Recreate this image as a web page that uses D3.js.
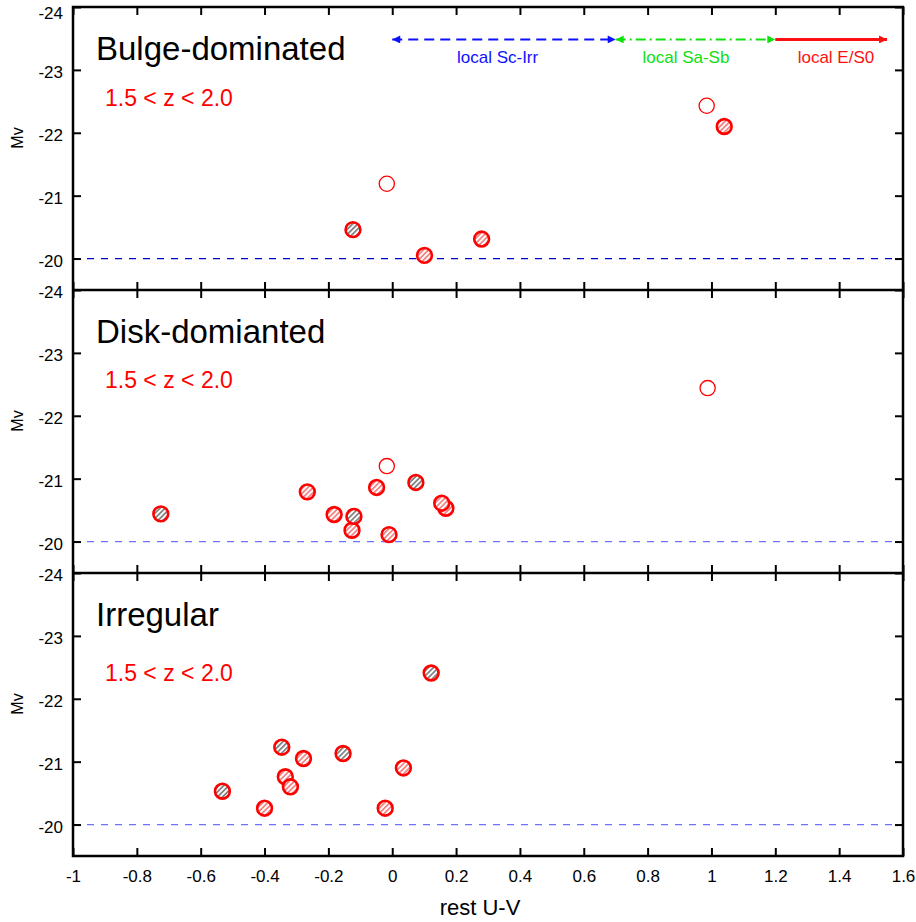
<!DOCTYPE html>
<html>
<head>
<meta charset="utf-8">
<script src="https://cdn.jsdelivr.net/npm/d3@7"></script>
<style>
  body { margin: 0; background: #fff; }
  text { font-family: "Liberation Sans", Arial, sans-serif; }
</style>
</head>
<body>
<div id="chart"></div>
<script>
// panels
const panelNames = ['Bulge-dominated', 'Disk-domianted', 'Irregular']
const zLabel = '1.5 < z < 2.0'

// kind: o = open, d = dark hatch, l = light hatch
const bulgeUV = [-0.017, 0.985, -0.123, 0.101, 0.28, 1.04]
const bulgeMv = [-21.19, -22.43, -20.46, -20.05, -20.31, -22.1]
const bulgeKind = ['o', 'o', 'd', 'l', 'l', 'l']

const diskUV = [-0.725, -0.266, -0.182, -0.126, -0.12, -0.049, -0.017, -0.01, 0.074, 0.168, 0.155, 0.988]
const diskMv = [-20.44, -20.79, -20.43, -20.18, -20.40, -20.86, -21.20, -20.11, -20.94, -20.53, -20.61, -22.44]
const diskKind = ['d', 'l', 'l', 'l', 'd', 'l', 'o', 'l', 'd', 'l', 'l', 'o']

const irrUV = [-0.532, -0.40, -0.346, -0.278, -0.335, -0.319, -0.154, -0.022, 0.035, 0.122]
const irrMv = [-20.53, -20.26, -21.23, -21.05, -20.76, -20.60, -21.13, -20.26, -20.90, -22.41]
const irrKind = ['d', 'l', 'd', 'l', 'l', 'l', 'd', 'l', 'l', 'd']

// local galaxy colour ranges (top panel)
const rangeNames = ['local Sc-Irr', 'local Sa-Sb', 'local E/S0']
const rangeStart = [0, 0.7, 1.2]
const rangeEnd = [0.7, 1.2, 1.55]
const rangeLabelUV = [0.33, 0.92, 1.39]
const rangeMv = -23.5

const xTicks = [-1, -0.8, -0.6, -0.4, -0.2, 0, 0.2, 0.4, 0.6, 0.8, 1, 1.2, 1.4, 1.6]
const yTicks = [-24, -23, -22, -21, -20]
const limitMv = -20

const panels = [
  { uv: bulgeUV, mv: bulgeMv, kind: bulgeKind },
  { uv: diskUV, mv: diskMv, kind: diskKind },
  { uv: irrUV, mv: irrMv, kind: irrKind }
]

const width = 916
const height = 922
const left = 73
const right = 903
const top0 = 7
const panelH = 283

const svg = d3.select('#chart').append('svg')
  .attr('width', width)
  .attr('height', height)

const defs = svg.append('defs')
const hatch = (id, color, w) => {
  const p = defs.append('pattern')
    .attr('id', id)
    .attr('patternUnits', 'userSpaceOnUse')
    .attr('width', 3.6)
    .attr('height', 3.6)
    .attr('patternTransform', 'rotate(45)')
  p.append('rect').attr('width', 3.6).attr('height', 3.6).attr('fill', '#fff')
  p.append('line')
    .attr('x1', 0.9).attr('y1', 0).attr('x2', 0.9).attr('y2', 3.6)
    .attr('stroke', color).attr('stroke-width', w)
}
hatch('hatchDark', '#222', 1.0)
hatch('hatchLight', '#f07878', 1.6)

const arrow = (id, color) => {
  defs.append('marker')
    .attr('id', id)
    .attr('viewBox', '0 0 10 10')
    .attr('refX', 10).attr('refY', 5)
    .attr('markerWidth', 12).attr('markerHeight', 8)
    .attr('markerUnits', 'userSpaceOnUse')
    .attr('orient', 'auto-start-reverse')
    .append('path')
    .attr('d', 'M0,0L10,5L0,10Z')
    .attr('fill', color)
}
const rangeColors = ['#1010ff', '#10e010', '#ff1010']
rangeColors.forEach((c, i) => arrow('arr' + i, c))

const x = d3.scaleLinear().domain([-1, 1.6]).range([left, right])
const fmt = d => String(Math.round(d * 10) / 10)

panels.forEach((p, i) => {
  const top = top0 + i * panelH
  const y = d3.scaleLinear().domain([-24, -19.5]).range([top, top + panelH])
  const g = svg.append('g')

  // limit line
  g.append('line')
    .attr('x1', left).attr('x2', right)
    .attr('y1', y(limitMv)).attr('y2', y(limitMv))
    .attr('stroke', i === 0 ? '#0000c8' : '#7070ff')
    .attr('stroke-width', 1.3)
    .attr('stroke-dasharray', '7,7')

  // axes with inward ticks
  const yl = g.append('g').attr('transform', `translate(${left},0)`)
    .call(d3.axisLeft(y).tickValues(yTicks).tickFormat(fmt).tickSizeInner(-8).tickSizeOuter(0).tickPadding(10))
  yl.selectAll('.tick text')
    .attr('dy', d => d === -24 ? (i === 0 ? '0.65em' : '0.45em') : '0.45em')
  const yr = g.append('g').attr('transform', `translate(${right},0)`)
    .call(d3.axisRight(y).tickValues(yTicks).tickFormat('').tickSizeInner(-8).tickSizeOuter(0))
  const xt = g.append('g').attr('transform', `translate(0,${top})`)
    .call(d3.axisTop(x).tickValues(xTicks).tickFormat('').tickSizeInner(-8).tickSizeOuter(0))
  const xb = g.append('g').attr('transform', `translate(0,${top + panelH})`)
    .call(d3.axisBottom(x).tickValues(xTicks).tickFormat(i === 2 ? fmt : '').tickSizeInner(-8).tickSizeOuter(0).tickPadding(14))
  ;[yl, yr, xt, xb].forEach(a => {
    a.select('.domain').remove()
    a.selectAll('.tick line').attr('stroke', '#000').attr('stroke-width', 2)
    a.selectAll('text').attr('font-size', 17).attr('fill', '#000')
      .attr('font-family', '"Liberation Sans", Arial, sans-serif')
  })

  // axis name
  g.append('text')
    .attr('transform', `translate(23,${top + 131}) rotate(-90)`)
    .attr('text-anchor', 'middle')
    .attr('font-size', 16)
    .text('Mv')

  // panel title and redshift
  g.append('text')
    .attr('x', 96).attr('y', top + 53)
    .attr('font-size', 33)
    .text(panelNames[i])
  g.append('text')
    .attr('x', 105).attr('y', top + [99, 98, 108][i])
    .attr('font-size', 23)
    .attr('fill', '#ff0000')
    .text(zLabel)

  // points
  const pts = p.uv.map((u, k) => ({ u, m: p.mv[k], kind: p.kind[k] }))
  g.append('g').selectAll('circle')
    .data(pts)
    .join('circle')
    .attr('cx', d => x(d.u))
    .attr('cy', d => y(d.m))
    .attr('r', d => d.kind === 'o' ? 7.6 : 7.4)
    .attr('fill', d => d.kind === 'o' ? '#fff' : d.kind === 'd' ? 'url(#hatchDark)' : 'url(#hatchLight)')
    .attr('stroke', '#ff0000')
    .attr('stroke-width', d => d.kind === 'o' ? 1.3 : 2.6)

  // local colour ranges
  if (i === 0) {
    const ya = y(rangeMv) + 1
    const dashes = ['10,6', '10,4,2,4', null]
    rangeNames.forEach((name, k) => {
      g.append('line')
        .attr('x1', x(rangeStart[k])).attr('x2', x(rangeEnd[k]))
        .attr('y1', ya).attr('y2', ya)
        .attr('stroke', rangeColors[k])
        .attr('stroke-width', k === 2 ? 3 : 2)
        .attr('stroke-dasharray', dashes[k])
        .attr('marker-start', k < 2 ? `url(#arr${k})` : null)
        .attr('marker-end', `url(#arr${k})`)
      g.append('text')
        .attr('x', x(rangeLabelUV[k])).attr('y', ya + 24)
        .attr('text-anchor', 'middle')
        .attr('font-size', 17)
        .attr('fill', rangeColors[k])
        .text(name)
    })
  }
})

// frame
svg.append('rect')
  .attr('x', left).attr('y', top0)
  .attr('width', right - left).attr('height', 3 * panelH)
  .attr('fill', 'none').attr('stroke', '#000').attr('stroke-width', 2.5)
;[1, 2].forEach(k => {
  svg.append('line')
    .attr('x1', left).attr('x2', right)
    .attr('y1', top0 + k * panelH).attr('y2', top0 + k * panelH)
    .attr('stroke', '#000').attr('stroke-width', 2.5)
})

svg.append('text')
  .attr('x', 480).attr('y', 915)
  .attr('text-anchor', 'middle')
  .attr('font-size', 22)
  .text('rest U-V')
</script>
</body>
</html>
